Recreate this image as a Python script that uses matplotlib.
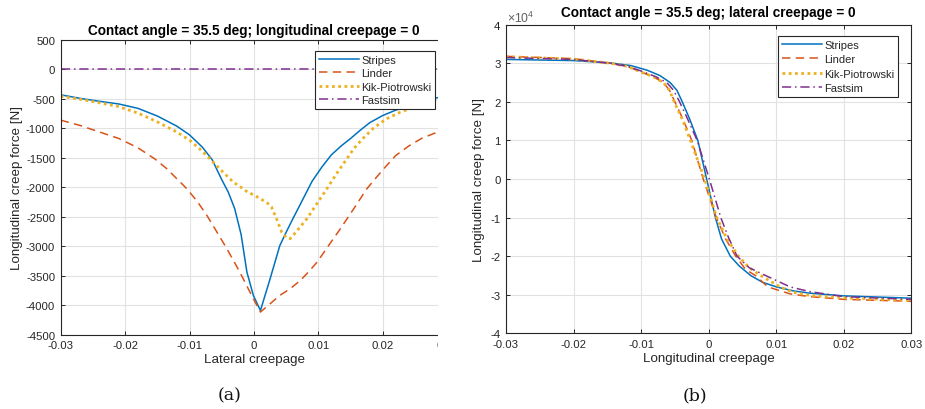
import matplotlib
matplotlib.use("Agg")
import matplotlib.pyplot as plt
from matplotlib.ticker import FuncFormatter
from matplotlib.patches import Rectangle

plt.rcParams['font.family'] = ['Liberation Sans', 'DejaVu Sans']
plt.rcParams['axes.unicode_minus'] = False
plt.rcParams['mathtext.fontset'] = 'custom'
plt.rcParams['mathtext.rm'] = 'Liberation Sans'

# ---------------- data: panel (a) ----------------
title_a = "Contact angle = 35.5 deg; longitudinal creepage = 0"
xlabel_a = "Lateral creepage"
ylabel = "Longitudinal creep force [N]"

stripes_a_x = [-0.030, -0.027, -0.024, -0.021, -0.018, -0.015, -0.012, -0.010, -0.008, -0.0065,
               -0.005, -0.004, -0.003, -0.002, -0.0011, -0.0001, 0.0010, 0.0025, 0.0040, 0.0050,
               0.0060, 0.0075, 0.0090, 0.0105, 0.0120, 0.0135, 0.0150, 0.0165, 0.0180, 0.0200,
               0.0220, 0.0250, 0.0284, 0.030]
stripes_a_y = [-430, -490, -540, -585, -660, -790, -960, -1110, -1320, -1530,
               -1870, -2080, -2360, -2800, -3438, -3834, -4090, -3551, -2990, -2760,
               -2540, -2220, -1900, -1660, -1450, -1300, -1170, -1030, -900, -780,
               -690, -590, -480, -450]

linder_a_x = [-0.030, -0.027, -0.024, -0.021, -0.018, -0.0154, -0.0135, -0.0117, -0.0104, -0.0088,
              -0.0073, -0.0058, -0.0042, -0.0022, -0.0001, 0.0010, 0.0040, 0.0056, 0.0072, 0.0085,
              0.0098, 0.0115, 0.0134, 0.0155, 0.0175, 0.0190, 0.0205, 0.0220, 0.0240, 0.0260,
              0.0284, 0.030]
linder_a_y = [-860, -950, -1060, -1170, -1330, -1517, -1687, -1885, -2026, -2240,
              -2478, -2750, -3043, -3438, -3890, -4116, -3834, -3720, -3580, -3430,
              -3268, -3000, -2703, -2360, -2026, -1830, -1640, -1460, -1300, -1170,
              -1065, -1000]

kik_a_x = [-0.030, -0.027, -0.024, -0.021, -0.018, -0.015, -0.012, -0.010, -0.0085, -0.0071,
           -0.006, -0.0048, -0.0032, -0.0020, -0.0010, 0.0000, 0.0010, 0.0020, 0.0027, 0.0035,
           0.0043, 0.0050, 0.0056, 0.0065, 0.0082, 0.0098, 0.0113, 0.0128, 0.0144, 0.0155,
           0.0170, 0.0185, 0.0205, 0.0227, 0.0255, 0.0279, 0.030]
kik_a_y = [-455, -505, -565, -630, -740, -890, -1060, -1200, -1340, -1488,
           -1610, -1743, -1912, -2000, -2080, -2130, -2195, -2260, -2330, -2534,
           -2760, -2850, -2873, -2760, -2534, -2270, -2026, -1770, -1517, -1340,
           -1160, -1000, -840, -725, -610, -528, -485]

fastsim_a_x = [-0.030, 0.030]
fastsim_a_y = [0, 0]

# ---------------- data: panel (b) ----------------
title_b = "Contact angle = 35.5 deg; lateral creepage = 0"
xlabel_b = "Longitudinal creepage"

stripes_b_x = [-0.030, -0.020, -0.0146, -0.0115, -0.0091, -0.0072, -0.0057, -0.0047, -0.0039,
               -0.0028, -0.0016, -0.0003, 0.0010, 0.0019, 0.0032, 0.0045, 0.0062, 0.0080,
               0.0101, 0.0125, 0.015, 0.020, 0.030]
stripes_b_y = [31000, 30700, 30100, 29400, 28200, 26800, 25000, 23000, 20000,
               15500, 10000, 0, -10000, -15500, -20000, -22500, -25000, -26800,
               -28000, -29000, -29600, -30300, -30900]

linder_b_x = [-0.030, -0.020, -0.0146, -0.0120, -0.0104, -0.0082, -0.0067, -0.0058, -0.0050,
              -0.0038, -0.0025, -0.0008, 0.00114, 0.0025, 0.0040, 0.0055, 0.0069, 0.0088,
              0.0121, 0.015, 0.020, 0.030]
linder_b_y = [31800, 31200, 30000, 29200, 28000, 26500, 25000, 23000, 20000,
              15500, 10000, 0, -10000, -15500, -20000, -23500, -25000, -28000,
              -29800, -30500, -31200, -31700]

kik_b_x = [-0.030, -0.020, -0.0146, -0.0120, -0.0104, -0.0082, -0.0067, -0.0058, -0.0051,
           -0.0039, -0.0027, -0.0006, 0.0012, 0.0027, 0.0044, 0.0060, 0.0077, 0.0106,
           0.0126, 0.015, 0.020, 0.030]
kik_b_y = [31700, 31100, 30000, 29200, 28000, 26500, 25000, 23000, 20000,
           15500, 10000, 0, -10000, -15500, -20000, -23000, -25000, -28000,
           -29400, -30200, -30800, -31500]

fastsim_b_x = [-0.030, -0.020, -0.0146, -0.0120, -0.0100, -0.0078, -0.0062, -0.0052, -0.0043,
               -0.0031, -0.0017, 0.0001, 0.0018, 0.0029, 0.0042, 0.0060, 0.0084, 0.0121,
               0.015, 0.020, 0.030]
fastsim_b_y = [31500, 31000, 30000, 29200, 28000, 26500, 25000, 23000, 20000,
               15500, 10000, 0, -10000, -15000, -20000, -23000, -25000, -28000,
               -29200, -30500, -31200]

legend_labels = ["Stripes", "Linder", "Kik-Piotrowski", "Fastsim"]
colors = ["#0072BD", "#D95319", "#EDB120", "#7E2F8E"]
xticks = [-0.03, -0.02, -0.01, 0, 0.01, 0.02, 0.03]
xtick_labels = ["-0.03", "-0.02", "-0.01", "0", "0.01", "0.02", "0.03"]

# ---------------- figure ----------------
W, H = 925, 410
fig = plt.figure(figsize=(W / 100, H / 100), dpi=100)
fig.patch.set_facecolor("white")

def fr(l, t, r, b):
    return [l / W, 1 - b / H, (r - l) / W, (b - t) / H]

ax1 = fig.add_axes(fr(60.7, 41, 447.3, 335.7))
ax2 = fig.add_axes(fr(506, 25.7, 911.3, 334.3))

axc = "#262626"
TICK_FS = 8.2
LAB_FS = 9.6
TITLE_FS = 9.8

def style(ax):
    ax.grid(True, color="#e2e2e2", lw=0.8)
    ax.set_axisbelow(True)
    for s in ax.spines.values():
        s.set_color(axc)
        s.set_linewidth(0.8)
    ax.tick_params(direction="in", length=3.2, width=0.7, colors=axc, labelsize=TICK_FS,
                   top=True, right=True, pad=4)

def draw(ax, data):
    (sx, sy), (lx, ly), (kx, ky), (fx, fy) = data
    ax.plot(sx, sy, color=colors[0], lw=1.1, label=legend_labels[0])
    ax.plot(lx, ly, color=colors[1], lw=1.1, dashes=(5.5, 3.5), label=legend_labels[1])
    ax.plot(kx, ky, color=colors[2], lw=2.0, dashes=(1.0, 1.25), label=legend_labels[2])
    ax.plot(fx, fy, color=colors[3], lw=1.1, dashes=(6, 2.5, 1, 2.5), label=legend_labels[3])

draw(ax1, [(stripes_a_x, stripes_a_y), (linder_a_x, linder_a_y),
           (kik_a_x, kik_a_y), (fastsim_a_x, fastsim_a_y)])
ax1.set_xlim(-0.03, 0.03)
ax1.set_ylim(-4500, 500)
ax1.set_xticks(xticks)
ax1.set_xticklabels(xtick_labels)
ax1.set_yticks(range(-4500, 501, 500))
style(ax1)
ax1.set_title(title_a, fontsize=TITLE_FS, fontweight="bold", pad=4)
ax1.set_xlabel(xlabel_a, fontsize=LAB_FS, color=axc, labelpad=2)
ax1.set_ylabel(ylabel, fontsize=LAB_FS, color=axc, labelpad=2)

draw(ax2, [(stripes_b_x, stripes_b_y), (linder_b_x, linder_b_y),
           (kik_b_x, kik_b_y), (fastsim_b_x, fastsim_b_y)])
ax2.set_xlim(-0.03, 0.03)
ax2.set_ylim(-40000, 40000)
ax2.set_xticks(xticks)
ax2.set_xticklabels(xtick_labels)
ax2.set_yticks(range(-40000, 40001, 10000))
ax2.yaxis.set_major_formatter(FuncFormatter(lambda v, p: f"{v / 1e4:g}"))
style(ax2)
ax2.set_title(title_b, fontsize=TITLE_FS, fontweight="bold", pad=6)
ax2.set_xlabel(xlabel_b, fontsize=LAB_FS, color=axc, labelpad=2)
ax2.set_ylabel(ylabel, fontsize=LAB_FS, color=axc, labelpad=4)
fig.text(507 / W, 1 - 23 / H, r"$\times10^{4}$", fontsize=8.8, color="#606060",
         ha="left", va="baseline")

def legend(ax, right, top, spacing):
    lg = ax.legend(loc="upper right", bbox_to_anchor=(right / W, 1 - top / H),
                   bbox_transform=fig.transFigure, fontsize=8.0, frameon=True, fancybox=False,
                   handlelength=3.6, handletextpad=0.2, borderpad=0.35, labelspacing=spacing,
                   borderaxespad=0)
    fr_ = lg.get_frame()
    fr_.set_edgecolor(axc)
    fr_.set_linewidth(0.8)
    fr_.set_alpha(1)
    for t in lg.get_texts():
        t.set_color(axc)
    return lg

legend(ax1, 435, 52, 0.3)
legend(ax2, 898, 37, 0.4)

# crop of the left sub-figure as in the reference
fig.patches.append(Rectangle((437.5 / W, 0), 28 / W, 1, transform=fig.transFigure,
                             facecolor="white", edgecolor="none", zorder=100))

fig.text(230 / W, 1 - 396 / H, "(a)", fontsize=12.5, family="DejaVu Serif",
         ha="center", va="center", color="#111111")
fig.text(695 / W, 1 - 396 / H, "(b)", fontsize=12.5, family="DejaVu Serif",
         ha="center", va="center", color="#111111")

fig.savefig("out.png", dpi=100)
